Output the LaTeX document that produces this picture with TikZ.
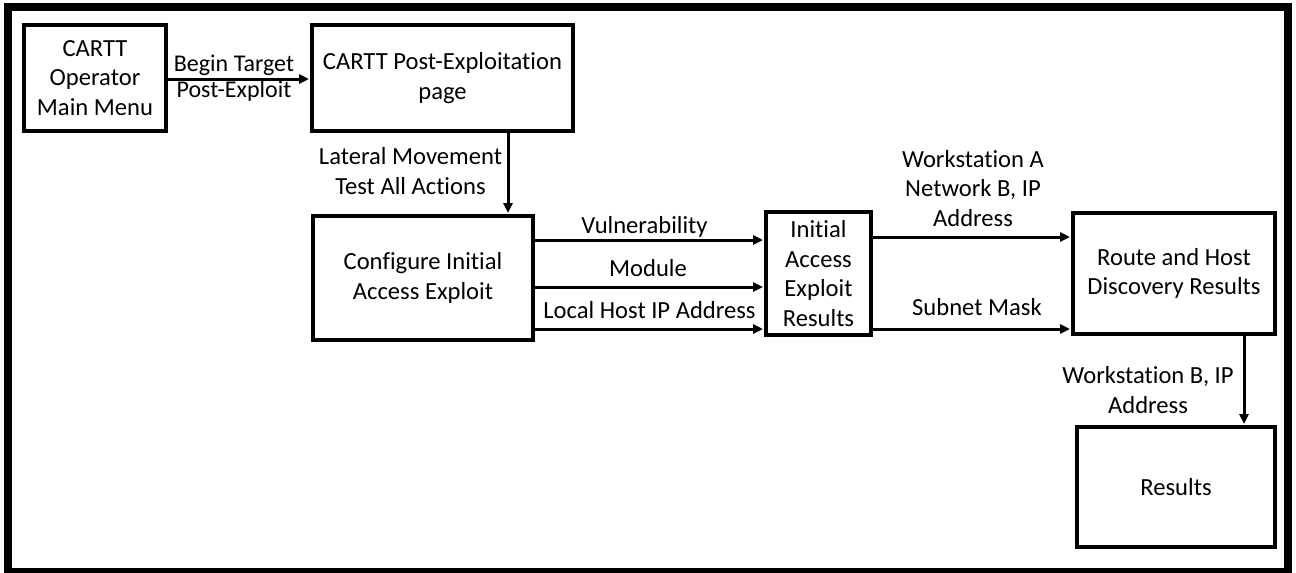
\documentclass[tikz,border=0pt]{standalone}
\usepackage{fontspec}
\setmainfont{Carlito}[Ligatures=NoCommon]
\usetikzlibrary{arrows.meta}

\begin{document}
\begin{tikzpicture}[x=1pt,y=-1pt,
  every node/.style={font=\fontsize{24.6}{29.5}\selectfont, inner sep=0pt},
  box/.style={draw, line width=4pt, align=center},
  lbl/.style={align=center, anchor=base},
  flow/.style={line width=3pt, -{Triangle[length=10pt,width=9pt]}, shorten >=1pt}]

  \useasboundingbox (0,0) rectangle (1296,573);
  \draw[line width=8pt] (8,7) rectangle (1288,572);

  % process boxes
  \node[box, minimum width=142, minimum height=106] (menu) at (95,78)
    {CARTT\\Operator\\Main Menu};
  \node[box, minimum width=261, minimum height=106] (post) at (442.5,78)
    {CARTT Post-Exploitation\\page};
  \node[box, minimum width=220, minimum height=124] (config) at (423,278)
    {Configure Initial\\Access Exploit};
  \node[box, minimum width=105, minimum height=123] (initial) at (818.5,273.5)
    {Initial\\Access\\Exploit\\Results};
  \node[box, minimum width=202, minimum height=121] (route) at (1174,273.5)
    {Route and Host\\Discovery Results};
  \node[box, minimum width=198, minimum height=120] (results) at (1176,487)
    {Results};

  % connectors
  \draw[flow] ([yshift=-1pt]menu.east) -- ([yshift=-1pt]menu.east -| post.west);
  \draw[flow] ([xshift=65.5pt]post.south) -- ([xshift=65.5pt]post.south |- config.north);
  \draw[flow] ([yshift=38pt]config.east) -- ([yshift=38pt]config.east -| initial.west);
  \draw[flow] ([yshift=-9pt]config.east) -- ([yshift=-9pt]config.east -| initial.west);
  \draw[flow] ([yshift=-51pt]config.east) -- ([yshift=-51pt]config.east -| initial.west);
  \draw[flow] ([yshift=36.5pt]initial.east) -- ([yshift=36.5pt]initial.east -| route.west);
  \draw[flow] ([yshift=-55.5pt]initial.east) -- ([yshift=-55.5pt]initial.east -| route.west);
  \draw[flow] ([xshift=70pt]route.south) -- ([xshift=70pt]route.south |- results.north);

  % connector labels (anchored at the baseline of their last line)
  \node[lbl, font=\fontsize{24}{26}\selectfont] (lbegin) at (234,97) {Begin Target\\Post-Exploit};
  \node[lbl] (llateral) at (410.5,194) {Lateral Movement\\Test All Actions};
  \node[lbl] (lvuln) at (644.5,233) {Vulnerability};
  \node[lbl] (lmodule) at (648,276) {Module};
  \node[lbl] (llocal) at (649.5,318) {Local Host IP Address};
  \node[lbl] (lwsa) at (973,226) {Workstation A\\Network B, IP\\Address};
  \node[lbl] (lsubnet) at (977,315) {Subnet Mask};
  \node[lbl] (lwsb) at (1148,413) {Workstation B, IP\\Address};
\end{tikzpicture}
\end{document}
